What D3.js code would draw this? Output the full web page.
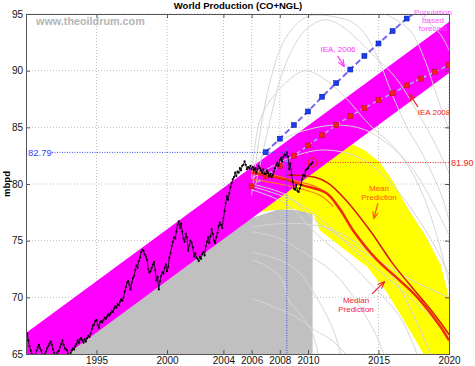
<!DOCTYPE html>
<html><head><meta charset="utf-8">
<script src="https://cdn.jsdelivr.net/npm/d3@7"></script>
<style>body{margin:0;background:#fff}svg{display:block}text{font-family:"Liberation Sans",Arial,sans-serif}</style>
</head><body><svg id="c" width="475" height="366"></svg>
<script>
// ---------- DATA ----------
const tickYears = [1995, 2000, 2004, 2006, 2008, 2010, 2015, 2020];
const tickValues = [65, 70, 75, 80, 85, 90, 95];
const prodStart = 1990; // monthly, from January 1990
const production = [
 66.6,66.8,66.2,65.7,65.3,65.0,64.8,64.6,64.9,65.3,65.6,65.8,
 65.5,65.3,64.9,64.8,65.0,65.2,65.5,65.7,65.9,66.1,65.8,65.4,
 65.1,64.9,65.0,65.2,65.3,65.6,65.9,66.2,65.8,65.5,65.4,65.3,
 65.0,64.9,65.1,65.3,65.5,65.4,65.7,65.9,66.2,66.0,66.3,66.4,
 66.2,66.0,66.3,66.1,66.4,66.6,66.5,66.8,67.2,67.5,67.6,67.9,
 68.0,67.6,67.3,67.8,67.9,67.8,68.0,68.2,68.1,68.3,68.5,68.4,
 68.6,68.8,68.7,69.0,69.2,69.1,69.4,69.3,69.6,69.8,69.7,70.0,
 70.5,70.9,71.3,71.4,71.1,70.7,71.3,71.7,71.9,72.4,72.8,72.6,
 73.2,73.5,74.0,74.2,74.1,73.8,73.6,73.3,72.5,72.2,72.3,72.6,
 72.9,73.1,72.4,71.5,71.8,70.7,71.4,71.9,72.2,72.1,72.6,72.9,
 72.3,72.7,73.5,73.9,74.5,74.9,75.3,75.2,75.8,76.4,76.7,76.1,
 76.5,75.8,75.2,74.9,75.6,75.3,74.1,74.6,75.0,74.8,74.4,73.6,
 73.9,73.5,73.4,73.2,73.6,73.4,73.8,74.0,73.7,74.5,74.9,75.3,
 74.8,75.4,76.0,75.6,75.0,74.8,75.3,75.7,76.3,76.6,76.4,76.1,
 77.0,77.6,78.3,78.9,78.6,79.2,79.7,80.1,80.4,80.6,81.0,80.7,
 81.1,81.0,81.4,81.2,81.6,81.7,82.0,81.7,81.3,81.5,81.4,81.6,
 81.3,81.5,81.2,81.4,81.0,81.3,81.6,81.4,81.2,81.0,81.3,80.9,
 80.9,81.2,81.0,80.7,80.9,80.6,80.8,81.1,81.4,81.7,81.9,81.6,
 82.1,82.3,82.0,82.4,82.6,82.5,82.79,82.4,81.3,81.8,80.8,80.2,
 79.6,79.5,79.9,79.4,79.3,79.6,79.9,80.4,80.8,80.7,81.2,81.3,
 81.4,81.6,81.7,81.8,81.9
];
const peakYear = 2008.5, peakValue = 82.79;
const lastYear = 2010.33, lastValue = 81.90;

const ieaYears2006 = [2007,2008,2009,2010,2011,2012,2013,2014,2015,2016,2017];
const ieaValues2006 = [82.8,84.0,85.2,86.4,87.7,88.9,90.1,91.3,92.4,93.5,94.6];
const ieaYears2008 = [2006,2007,2008,2009,2010,2011,2012,2013,2014,2015,2016,2017,2018,2019,2020];
const ieaValues2008 = [79.8,80.7,81.6,82.5,83.4,84.3,85.2,86.0,86.7,87.4,88.0,88.7,89.3,89.9,90.5];

const bandUpper = [[1990,66.85],[2020,94.3]];
const bandLower = [[1990,62.3],[2020,89.8]];
const grayArea = [[1992.5,64.6],[2006.0,77.0],[2008.0,77.8],[2010.33,77.6],[2010.33,64],[1992.5,64]];
const yellowUpper = [[2006.0,77.4],[2006.0,80.0],[2008,81.5],[2010,82.6],[2011.5,83.3],[2013.0,83.6],[2014.0,83.0],[2015.1,81.9],[2016.0,80.3],[2017.0,78.0],[2018.3,75.5],[2019.4,72.9],[2020,70.0],[2020,63]];
const yellowLower = [[2006.0,77.4],[2007.5,77.7],[2009.0,77.8],[2010.4,77.3],[2010.85,75.9],[2012.5,74.3],[2014.2,72.7],[2015.5,70.6],[2016.5,68.6],[2018.2,65.0],[2018.6,63]];

const forecastCurves = [
 [[2006.0,79.0],[2006.6,84.5],[2007.3,89.0],[2008.2,92.4],[2009.1,94.0],[2010.0,94.8],[2011.0,94.9],[2012.1,94.7],[2013.1,94.3],[2014.0,93.3],[2015.0,91.0],[2016.0,87.8],[2017.1,84.8],[2018.1,82.7],[2019.5,78.9],[2020,76.8]],
 [[2006.3,80.0],[2007.2,85.0],[2008.1,89.5],[2009.1,92.4],[2010.0,93.8],[2011.2,94.5],[2012.3,94.0],[2013.3,93.0],[2014.7,91.3],[2016.2,89.4],[2017.6,86.7],[2019.0,83.6],[2020,81.0]],
 [[2006.0,80.5],[2006.7,86.0],[2008.4,88.9],[2009.8,90.0],[2011.0,89.4],[2012.6,87.7],[2014.3,85.3],[2015.9,83.5],[2017.1,81.6],[2018.1,79.2],[2018.8,76.8],[2019.5,73.8],[2020,71.2]],
 [[2014.8,95.5],[2015.5,95.0],[2017.2,93.6],[2018.3,90.9],[2019.0,88.3],[2019.5,86.5],[2020,84.8]],
 [[2017.4,95.5],[2017.9,95.0],[2019.4,93.2],[2020,91.8]],
 [[2006.0,81.5],[2008.0,83.8],[2010.0,84.8],[2012.0,85.2],[2014.0,84.8],[2016.0,83.2],[2017.5,81.2],[2019.0,78.0],[2020,75.5]],
 [[2006.0,80.5],[2008.5,82.2],[2011,83.0],[2013.5,82.4],[2015.5,80.6],[2017.5,77.5],[2019,74.5],[2020,72.0]],
 [[2006.0,80.0],[2008.5,79.0],[2010.3,77.0],[2011.8,75.7],[2013.5,74.3],[2015.3,73.0],[2017.7,71.3],[2020,70.0]],
 [[2006.0,79.8],[2009,78.5],[2011.3,76.5],[2013.2,74.2],[2015.2,72.2],[2017.2,70.0],[2019.4,67.4],[2020,66.5]],
 [[2006.0,79.5],[2008.5,78.2],[2010.85,75.3],[2012.5,73.6],[2014.2,71.5],[2016.5,68.3],[2017.7,65.1],[2018.2,63.5]],
 [[2006.0,75.8],[2008,75.2],[2009.4,74.2],[2011.8,72.2],[2013.5,69.5],[2014.9,66.5],[2015.5,64.5]],
 [[2006.0,74.0],[2008.0,73.3],[2009.4,72.15],[2010.85,69.5],[2011.8,67.1],[2012.3,65.1],[2012.6,64]],
 [[2006.0,73.3],[2007.0,72.8],[2008.2,71.5],[2008.6,69.8],[2009.6,68.3],[2010.3,66.9],[2010.7,65.1],[2010.9,64]],
 [[2006.0,69.9],[2007.7,69.1],[2009.1,68.3],[2010.5,67.1],[2011.7,66.2],[2012.6,65.1],[2013,64.5]],
 [[2006.0,76.2],[2008,76.5],[2010.3,76.4],[2012,75.8],[2014,74.3],[2016,71.8],[2018,67.0],[2019,64]]
];
const otherPredictions = [
 [[2006.0,81.2],[2007.5,80.8],[2009.0,80.3],[2010.5,79.8],[2011.5,79.0],[2012.5,77.5]],
 [[2006.0,80.4],[2008,80.0],[2010,79.4],[2011,78.9],[2011.8,78.0]]
];
const meanPrediction = [[2006.0,81.0],[2008.4,80.4],[2009.6,79.9],[2011.3,79.2],[2012.3,77.7],[2013.2,75.9],[2014.9,73.3],[2016.5,71.5],[2017.9,69.8],[2019.4,67.4],[2020,66.2]];
const medianPrediction = [[2008.5,80.8],[2010.5,80.6],[2011.4,80.1],[2012.6,78.7],[2014.4,75.9],[2016.0,73.0],[2017.7,70.4],[2018.9,68.6],[2019.9,66.9],[2020,66.7]];

// ---------- CHART ----------
const svg = d3.select('#c');
const x = d3.scaleLinear().domain([1990,2020]).range([26,449]);
const y = d3.scaleLinear().domain([65,95]).range([354,14]);
const defs = svg.append('defs');
defs.append('clipPath').attr('id','clip').append('rect')
  .attr('x',x(1990)).attr('y',y(95)).attr('width',x(2020)-x(1990)).attr('height',y(65)-y(95));
function marker(id,color){
  defs.append('marker').attr('id',id).attr('viewBox','0 0 10 10').attr('refX',9).attr('refY',5)
   .attr('markerWidth',6).attr('markerHeight',6).attr('orient','auto')
   .append('path').attr('d','M0,1L10,5L0,9').attr('fill','none').attr('stroke',color).attr('stroke-width',1.6);
}
marker('am','#ff33ff'); marker('ar','#ee2222'); marker('ao','#ff5511'); marker('ad','#ee2233');

const line = d3.line().x(d=>x(d[0])).y(d=>y(d[1]));
const smooth = d3.line().x(d=>x(d[0])).y(d=>y(d[1])).curve(d3.curveCatmullRom);

// grid
const grid = svg.append('g').attr('stroke','#bdbdbd').attr('stroke-dasharray','1,2').attr('stroke-width',1);
tickYears.forEach(t=>grid.append('line').attr('x1',x(t)).attr('x2',x(t)).attr('y1',y(65)).attr('y2',y(95)));
tickValues.forEach(t=>grid.append('line').attr('y1',y(t)).attr('y2',y(t)).attr('x1',x(1990)).attr('x2',x(2020)));

const plot = svg.append('g').attr('clip-path','url(#clip)');
plot.append('path').datum(grayArea).attr('d',line).attr('fill','#c0c0c0');
plot.append('path').datum(yellowUpper.concat(yellowLower.slice().reverse())).attr('d',line).attr('fill','#ffff00');

// label under band
const pop = svg.append('text').attr('fill','#ff55ff').attr('font-size',8).attr('text-anchor','middle');
['Population','based','forecast'].forEach((s,i)=>pop.append('tspan').attr('x',433).attr('y',15+i*8).text(s));

const band = bandUpper.concat(bandLower.slice().reverse());
plot.append('path').datum(band).attr('d',line).attr('fill','#ff00ff');

plot.selectAll('.fc').data(forecastCurves).join('path').attr('d',smooth)
  .attr('fill','none').attr('stroke','#d6d6d6').attr('stroke-width',1);

plot.selectAll('.op').data(otherPredictions).join('path').attr('d',smooth)
  .attr('fill','none').attr('stroke','#ff7a1a').attr('stroke-width',1.2);
plot.append('path').datum(medianPrediction).attr('d',smooth).attr('fill','none').attr('stroke','#d81a0a').attr('stroke-width',1.5);
plot.append('path').datum(meanPrediction).attr('d',smooth).attr('fill','none').attr('stroke','#f02a0a').attr('stroke-width',2.5);

// IEA 2008
const i08 = ieaYears2008.map((t,i)=>[t,ieaValues2008[i]]);
plot.append('path').datum(i08).attr('d',line).attr('fill','none').attr('stroke','#a9b6ff').attr('stroke-width',1.5).attr('stroke-dasharray','4,3');
plot.selectAll('.r8').data(i08).join('rect').attr('x',d=>x(d[0])-2.5).attr('y',d=>y(d[1])-2.5)
  .attr('width',5).attr('height',5).attr('fill','#ee2222').attr('stroke','#b01010').attr('stroke-width',0.5);

// IEA 2006
const i06 = ieaYears2006.map((t,i)=>[t,ieaValues2006[i]]);
plot.append('path').datum(i06.concat([[2017.7,95.2]])).attr('d',line).attr('fill','none').attr('stroke','#7766ee').attr('stroke-width',2).attr('stroke-dasharray','6,3');
plot.selectAll('.b6').data(i06).join('rect').attr('x',d=>x(d[0])-2.5).attr('y',d=>y(d[1])-2.5)
  .attr('width',5).attr('height',5).attr('fill','#1a3cf0').attr('stroke','#0a1a90').attr('stroke-width',0.5);

// reference lines
svg.append('line').attr('x1',52).attr('x2',x(peakYear)).attr('y1',y(peakValue)).attr('y2',y(peakValue))
  .attr('stroke','#3344ff').attr('stroke-dasharray','1,1.5').attr('stroke-width',1);
svg.append('line').attr('x1',x(peakYear)).attr('x2',x(peakYear)).attr('y1',y(peakValue)).attr('y2',y(65))
  .attr('stroke','#3344ff').attr('stroke-dasharray','1,1.5').attr('stroke-width',1);
svg.append('line').attr('x1',x(lastYear)).attr('x2',x(2020)).attr('y1',y(lastValue)).attr('y2',y(lastValue))
  .attr('stroke','#ee2222').attr('stroke-dasharray','1,1.5').attr('stroke-width',1);

// production data
const prod = production.map((v,i)=>[prodStart+i/12,v]);
plot.append('path').datum(prod).attr('d',line).attr('fill','none').attr('stroke','#000').attr('stroke-width',0.8);
plot.selectAll('.pd').data(prod).join('circle').attr('cx',d=>x(d[0])).attr('cy',d=>y(d[1])).attr('r',1.1).attr('fill','#000');

svg.append('text').attr('x',x(peakYear)).attr('y',y(peakValue)+3).attr('text-anchor','middle').attr('fill','#6a5cf0').attr('font-size',10).text('*');
svg.append('circle').attr('cx',x(lastYear)).attr('cy',y(lastValue)).attr('r',4.5).attr('fill','none').attr('stroke','#ee2222').attr('stroke-width',1.3);

// axes
const ax = svg.append('g').attr('font-size',10);
const fmt = d=>d;
ax.append('g').attr('transform',`translate(0,${y(65)})`).call(d3.axisBottom(x).tickValues(tickYears).tickSize(-4).tickPadding(3).tickFormat(fmt));
ax.append('g').attr('transform',`translate(0,${y(95)})`).call(d3.axisTop(x).tickValues(tickYears).tickSize(-4).tickFormat(''));
ax.append('g').attr('transform',`translate(${x(1990)},0)`).call(d3.axisLeft(y).tickValues(tickValues).tickSize(-4).tickPadding(3).tickFormat(fmt));
ax.append('g').attr('transform',`translate(${x(2020)},0)`).call(d3.axisRight(y).tickValues(tickValues).tickSize(-4).tickFormat(''));
ax.selectAll('.domain').attr('stroke','#555');
ax.selectAll('.tick line').attr('stroke','#555');
ax.selectAll('text').attr('fill','#111').attr('font-family','"Liberation Sans",Arial,sans-serif').attr('font-size',10);

// texts
svg.append('text').attr('x',238).attr('y',9).attr('text-anchor','middle').attr('font-weight','bold').attr('font-size',9.5).text('World Production (CO+NGL)');
svg.append('text').attr('x',36).attr('y',25).attr('font-family','"Liberation Mono",monospace').attr('font-size',10.8).attr('fill','#b5b5b5').attr('font-weight','bold').text('www.theoildrum.com');
svg.append('text').attr('transform',`translate(10,${(y(65)+y(95))/2}) rotate(-90)`).attr('text-anchor','middle').attr('font-weight','bold').attr('font-size',9.5).text('mbpd');
svg.append('text').attr('x',28).attr('y',y(peakValue)+3.5).attr('fill','#3344ff').attr('font-size',9.5).text(peakValue.toFixed(2));
svg.append('text').attr('x',451).attr('y',y(lastValue)+3.5).attr('fill','#ee2222').attr('font-size',9).text(lastValue.toFixed(2));

function arrow(a,b,m,c){svg.append('line').attr('x1',x(a[0])).attr('y1',y(a[1])).attr('x2',x(b[0])).attr('y2',y(b[1])).attr('stroke',c).attr('stroke-width',1.2).attr('marker-end',`url(#${m})`);}
svg.append('text').attr('x',338).attr('y',52).attr('text-anchor','middle').attr('fill','#ff33ff').attr('font-size',8).text('IEA, 2006');
arrow([2012.1,91.3],[2012.55,90.4],'am','#ff33ff');
svg.append('text').attr('x',434).attr('y',115).attr('text-anchor','middle').attr('fill','#ee2222').attr('font-size',8).text('IEA 2008');
arrow([2017.8,86.8],[2017.2,87.9],'ar','#ee2222');
const mt = svg.append('text').attr('text-anchor','middle').attr('fill','#ff5511').attr('font-size',8);
mt.append('tspan').attr('x',379).attr('y',191).text('Mean');
mt.append('tspan').attr('x',379).attr('y',200).text('Prediction');
arrow([2014.96,78.3],[2014.68,77.0],'ao','#ff5511');
const md = svg.append('text').attr('text-anchor','middle').attr('fill','#ee2233').attr('font-size',8);
md.append('tspan').attr('x',356).attr('y',303).text('Median');
md.append('tspan').attr('x',356).attr('y',312).text('Prediction');
arrow([2014.54,70.3],[2015.4,71.35],'ad','#ee2233');
</script></body></html>
